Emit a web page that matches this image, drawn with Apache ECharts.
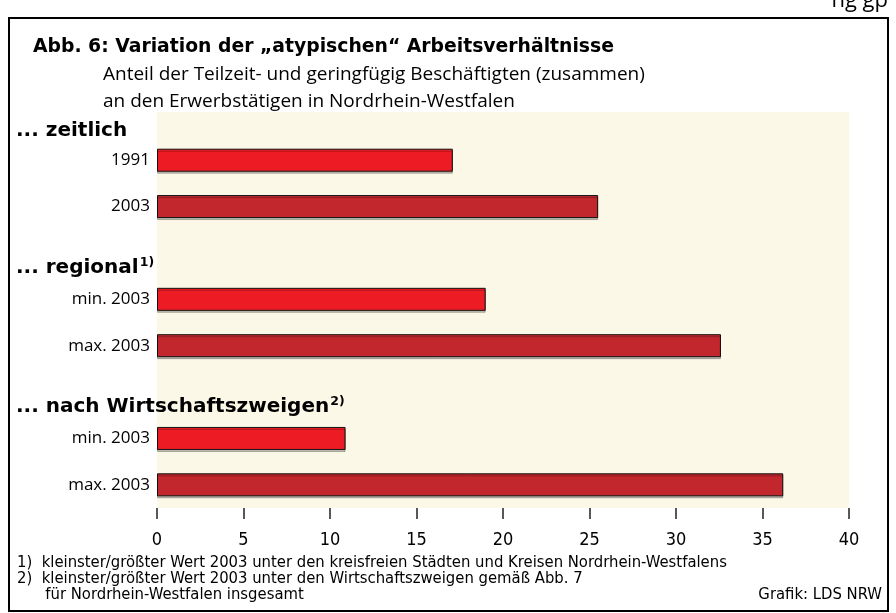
<!DOCTYPE html>
<html>
<head>
<meta charset="utf-8">
<script src="https://cdn.jsdelivr.net/npm/echarts@6/dist/echarts.min.js"></script>
<style>
  html, body { margin: 0; padding: 0; background: #fff; }
  #main { width: 896px; height: 613px; }
</style>
</head>
<body>
<div id="main"></div>
<script>
// rows from top to bottom, '' = gap row before the next group
var rowLabels = ['1991', '2003', '', 'min. 2003', 'max. 2003', '', 'min. 2003', 'max. 2003'];
var rowValues = [17.1, 25.5, '-', 19.0, 32.6, '-', 10.9, 36.2];
var rowKind = ['min', 'max', '', 'min', 'max', '', 'min', 'max'];
var xTicks = [0, 5, 10, 15, 20, 25, 30, 35, 40];

var groupHeads = ['... zeitlich', '... regional{sup|1)}', '... nach Wirtschaftszweigen{sup|2)}'];
var footnotes = [
    '1)  kleinster/größter Wert 2003 unter den kreisfreien Städten und Kreisen Nordrhein-Westfalens',
    '2)  kleinster/größter Wert 2003 unter den Wirtschaftszweigen gemäß Abb. 7',
    '      für Nordrhein-Westfalen insgesamt'
];

var lightRed = '#ED1C24';
var darkRed = '#C1272D';
var cream = '#FCF8E8';
var narrow = '"DejaVu Sans Condensed", "Liberation Sans Narrow", sans-serif';
var sans = '"Open Sans", "Noto Sans", sans-serif';
var wideBold = '"DejaVu Sans", sans-serif';

function drawChart() {
    var chartDom = document.getElementById('main');
    var myChart = echarts.init(chartDom);
    var option;

    var barData = rowValues.map(function (v, i) {
        return {
            value: v,
            itemStyle: { color: rowKind[i] === 'min' ? lightRed : darkRed }
        };
    });

    var headStyle = {
        fontFamily: wideBold,
        fontSize: 20,
        fontWeight: 'bold',
        fill: '#000',
        verticalAlign: 'middle',
        rich: {
            sup: { fontSize: 12.5, fontWeight: 'bold', fontFamily: wideBold, padding: [0, 0, 10, 1] }
        }
    };

    option = {
        backgroundColor: '#fff',
        animation: false,
        grid: { left: 157, right: 47, top: 137, height: 371 },
        xAxis: {
            type: 'value',
            min: 0,
            max: 40,
            interval: 5,
            splitLine: { show: false },
            axisLine: { show: false },
            axisTick: { show: true, length: 11, lineStyle: { color: '#222', width: 1.5 } },
            axisLabel: {
                margin: 23,
                fontFamily: narrow,
                fontSize: 18,
                color: '#000',
                formatter: function (v) { return xTicks.indexOf(v) >= 0 ? String(v) : ''; }
            }
        },
        yAxis: {
            type: 'category',
            inverse: true,
            data: rowLabels,
            axisLine: { show: false },
            axisTick: { show: false },
            axisLabel: {
                margin: 7,
                fontFamily: sans,
                fontSize: 17,
                color: '#000'
            }
        },
        series: [{
            type: 'bar',
            barWidth: 23,
            data: barData,
            itemStyle: {
                borderColor: '#111',
                borderWidth: 1,
                shadowColor: 'rgba(0,0,0,0.25)',
                shadowOffsetY: 2,
                shadowBlur: 0
            }
        }],
        graphic: {
            elements: [
                { type: 'rect', z: -10, silent: true,
                  shape: { x: 157, y: 112, width: 692, height: 396 },
                  style: { fill: cream } },
                { type: 'rect', z: 10, silent: true,
                  shape: { x: 9, y: 18, width: 879, height: 593 },
                  style: { fill: 'none', stroke: '#000', lineWidth: 2 } },
                { type: 'text', x: 888, y: 1,
                  style: { text: 'ng gp', fontFamily: sans, fontSize: 22, fill: '#000',
                           align: 'right', verticalAlign: 'middle' } },
                { type: 'text', x: 33, y: 47,
                  style: { text: 'Abb. 6: Variation der „atypischen“ Arbeitsverhältnisse',
                           fontFamily: wideBold, fontSize: 18.8, fontWeight: 'bold', fill: '#000',
                           verticalAlign: 'middle' } },
                { type: 'text', x: 103, y: 75,
                  style: { text: 'Anteil der Teilzeit- und geringfügig Beschäftigten (zusammen)',
                           fontFamily: sans, fontSize: 19, fill: '#000', verticalAlign: 'middle' } },
                { type: 'text', x: 103, y: 102,
                  style: { text: 'an den Erwerbstätigen in Nordrhein-Westfalen',
                           fontFamily: sans, fontSize: 19, fill: '#000', verticalAlign: 'middle' } },
                { type: 'text', x: 16, y: 131,
                  style: Object.assign({}, headStyle, { text: groupHeads[0] }) },
                { type: 'text', x: 16, y: 268,
                  style: Object.assign({}, headStyle, { text: groupHeads[1] }) },
                { type: 'text', x: 16, y: 407,
                  style: Object.assign({}, headStyle, { text: groupHeads[2] }) },
                { type: 'text', x: 17, y: 563,
                  style: { text: footnotes[0], fontFamily: narrow, fontSize: 16.5, fill: '#000', verticalAlign: 'middle' } },
                { type: 'text', x: 17, y: 579,
                  style: { text: footnotes[1], fontFamily: narrow, fontSize: 16.5, fill: '#000', verticalAlign: 'middle' } },
                { type: 'text', x: 17, y: 595,
                  style: { text: footnotes[2], fontFamily: narrow, fontSize: 16.5, fill: '#000', verticalAlign: 'middle' } },
                { type: 'text', x: 882, y: 595,
                  style: { text: 'Grafik: LDS NRW', fontFamily: narrow, fontSize: 16.5, fill: '#000',
                           align: 'right', verticalAlign: 'middle' } }
            ]
        }
    };

    option && myChart.setOption(option);
}

document.addEventListener('DOMContentLoaded', function () {
    drawChart();
});
</script>
</body>
</html>
